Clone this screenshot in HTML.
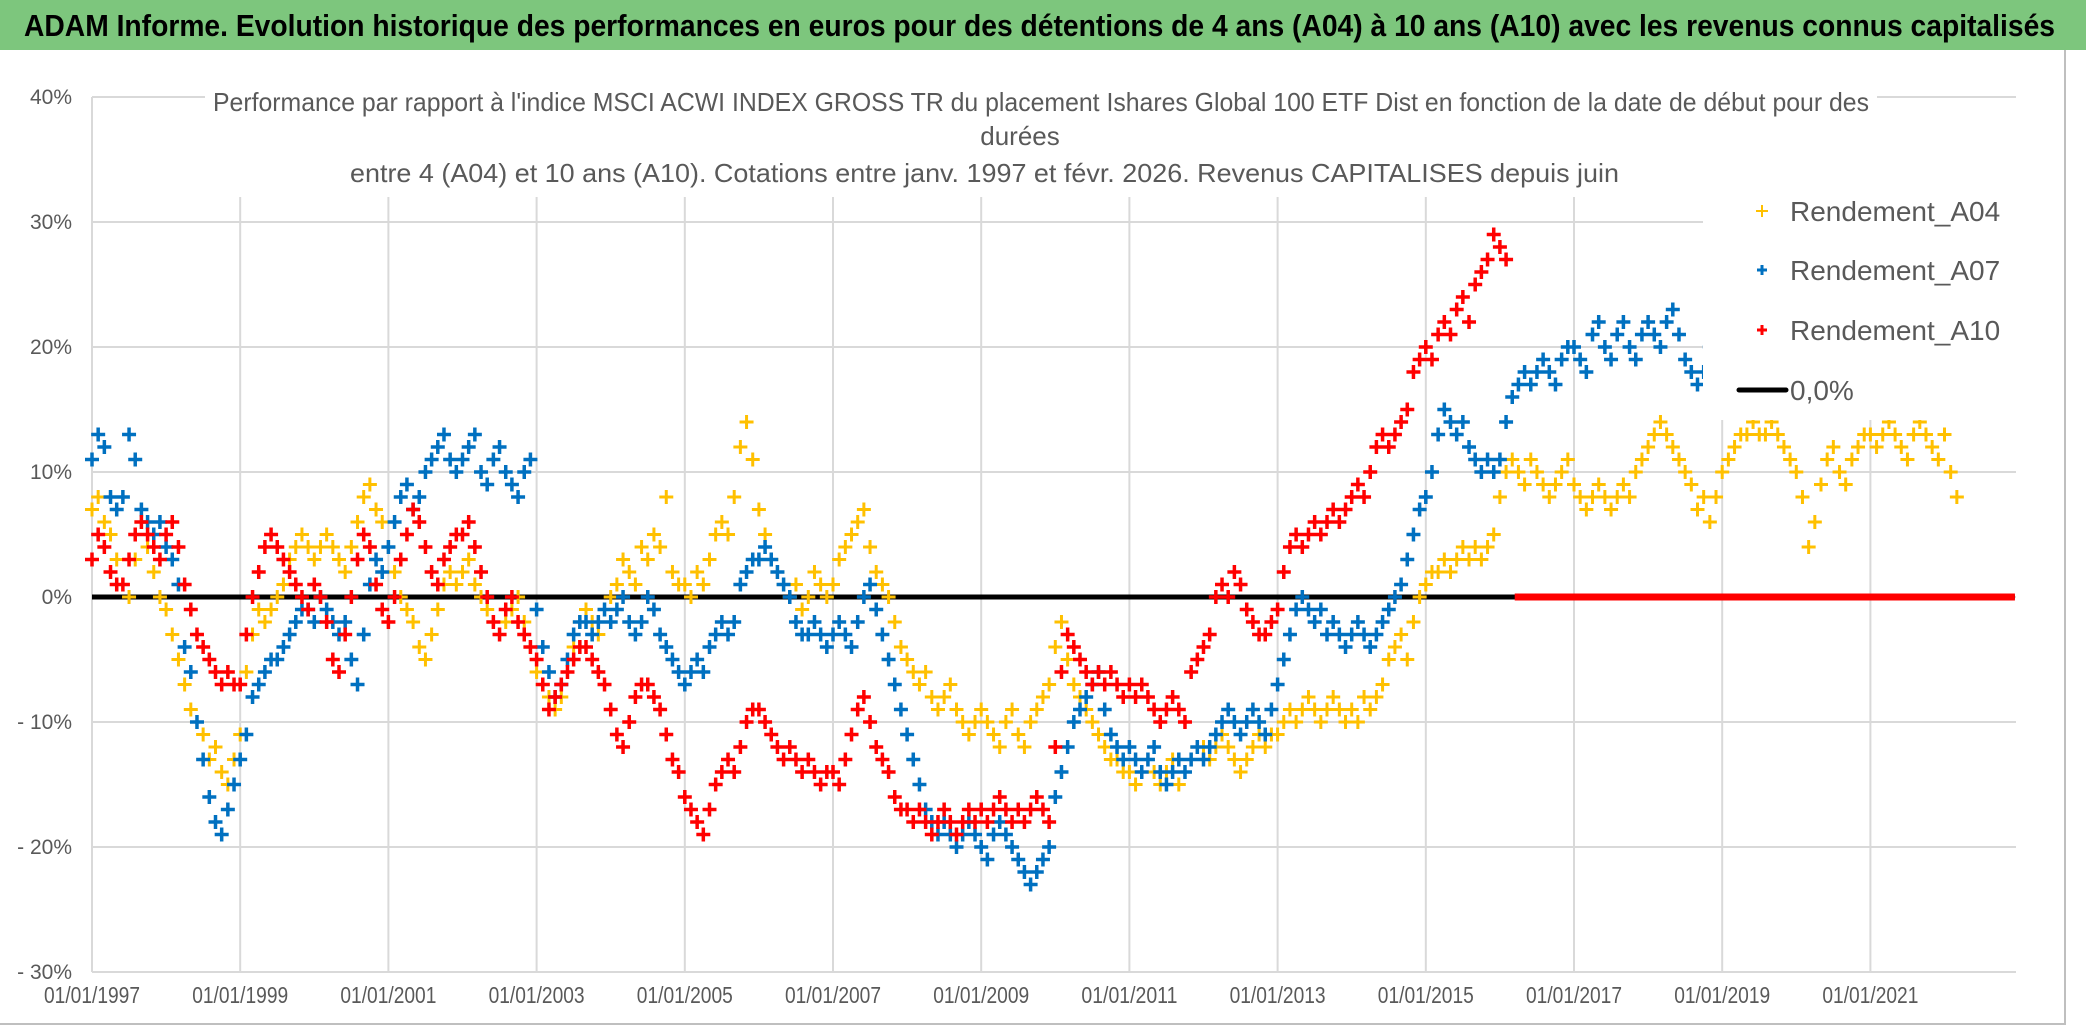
<!DOCTYPE html>
<html><head><meta charset="utf-8"><style>
html,body{margin:0;padding:0;background:#fff}
svg{display:block}
text{font-family:"Liberation Sans Narrow","Liberation Sans",sans-serif}
</style></head><body>
<svg id="chart" width="2086" height="1031" viewBox="0 0 2086 1031" xmlns="http://www.w3.org/2000/svg">
<rect x="0" y="0" width="2086" height="1031" fill="#fff"/>
<rect x="0" y="0" width="2086" height="50" fill="#7DC67D"/>
<text x="24" y="36" font-size="31" font-weight="bold" fill="#000" textLength="2031" lengthAdjust="spacingAndGlyphs">ADAM Informe. Evolution historique des performances en euros pour des détentions de 4 ans (A04) à 10 ans (A10) avec les revenus connus capitalisés</text>
<line x1="2065" y1="50" x2="2065" y2="1025" stroke="#bfbfbf" stroke-width="2"/>
<line x1="0" y1="1024" x2="2066" y2="1024" stroke="#bfbfbf" stroke-width="2"/>
<g id="grid"></g>
<g id="yaxis"></g>
<g id="xaxis"></g>
<g id="series"></g>
<rect x="205" y="82" width="1672" height="115" fill="#fff"/>
<text x="213" y="111" font-size="26" fill="#595959" textLength="1656" lengthAdjust="spacingAndGlyphs">Performance par rapport à l'indice MSCI ACWI INDEX GROSS TR  du placement Ishares Global 100 ETF Dist en fonction de la date de début pour des</text>
<text x="1020" y="145" font-size="26" fill="#595959" text-anchor="middle">durées</text>
<text x="350" y="182" font-size="26" fill="#595959" textLength="1269" lengthAdjust="spacingAndGlyphs">entre 4 (A04) et 10 ans (A10). Cotations entre janv. 1997 et févr. 2026. Revenus CAPITALISES depuis juin</text>
<g>
<rect x="1703" y="150" width="313" height="270" fill="#fff"/>
<g><path d="M1756 211h12M1762 205v12" stroke="#FFC000" stroke-width="2"/><text x="1790" y="221" font-size="28" fill="#595959">Rendement_A04</text></g>
<g><path d="M1757 270h10M1762 265v10" stroke="#0070C0" stroke-width="3"/><text x="1790" y="280" font-size="28" fill="#595959">Rendement_A07</text></g>
<g><path d="M1757 330h10M1762 325v10" stroke="#FF0000" stroke-width="3"/><text x="1790" y="340" font-size="28" fill="#595959">Rendement_A10</text></g>
<g><line x1="1739" y1="390" x2="1786" y2="390" stroke="#000" stroke-width="5" stroke-linecap="round"/><text x="1790" y="400" font-size="28" fill="#595959">0,0%</text></g>
</g>
</svg>
<script>
const startYear = 1997;
const yTicks = [40,30,20,10,0,-10,-20,-30];
const yTickLabels = ["40%","30%","20%","10%","0%","- 10%","- 20%","- 30%"];
const xTicks = [1997,1999,2001,2003,2005,2007,2009,2011,2013,2015,2017,2019,2021];
const xTickLabels = ["01/01/1997","01/01/1999","01/01/2001","01/01/2003","01/01/2005","01/01/2007","01/01/2009","01/01/2011","01/01/2013","01/01/2015","01/01/2017","01/01/2019","01/01/2021"];
const a04 = [7,8,6,5,3,1,0,3,6,4,2,0,
-1,-3,-5,-7,-9,-10,-11,-13,-12,-14,-15,-13,
-11,-6,-3,-1,-2,-1,0,1,3,4,5,4,
3,4,5,4,3,2,4,6,8,9,7,6,
4,2,0,-1,-2,-4,-5,-3,-1,1,2,1,
2,3,1,0,-1,-2,-3,-2,-1,0,-2,-4,
-6,-7,-8,-9,-8,-6,-4,-2,-1,-2,-3,-1,
0,1,3,2,1,4,3,5,4,8,2,1,
1,0,2,1,3,5,6,5,8,12,14,11,
7,5,3,2,1,0,1,-1,0,2,1,0,
1,3,4,5,6,7,4,2,1,0,-2,-4,
-5,-6,-7,-6,-8,-9,-8,-7,-9,-10,-11,-10,
-9,-10,-11,-12,-10,-9,-11,-12,-10,-9,-8,-7,
-4,-2,-5,-7,-8,-9,-10,-11,-12,-13,-13,-14,
-14,-15,-14,-13,-14,-15,-14,-13,-15,-14,-13,-12,
-12,-13,-12,-11,-12,-13,-14,-13,-12,-11,-12,-11,
-11,-10,-9,-10,-9,-8,-9,-10,-9,-8,-9,-10,
-9,-10,-8,-9,-8,-7,-5,-4,-3,-5,-2,0,
1,2,2,3,2,3,4,3,4,3,4,5,
8,10,11,10,9,11,10,9,8,9,10,11,
9,8,7,8,9,8,7,8,9,8,10,11,
12,13,14,13,12,11,10,9,7,8,6,8,
10,11,12,13,13,14,13,13,14,13,12,11,
10,8,4,6,9,11,12,10,9,11,12,13,
13,12,13,14,13,12,11,13,14,13,12,11,
13,10,8];
const a07 = [11,13,12,8,7,8,13,11,7,6,5,6,
4,3,1,-4,-6,-10,-13,-16,-18,-19,-17,-15,
-13,-11,-8,-7,-6,-5,-5,-4,-3,-2,-1,-1,
-2,0,-1,-2,-3,-2,-5,-7,-3,1,3,2,
4,6,8,9,7,8,10,11,12,13,11,10,
11,12,13,10,9,11,12,10,9,8,10,11,
-1,-4,-6,-8,-7,-5,-3,-2,-2,-3,-2,-1,
-2,-1,0,-2,-3,-2,0,-1,-3,-4,-5,-6,
-7,-6,-5,-6,-4,-3,-2,-3,-2,1,2,3,
3,4,3,2,1,0,-2,-3,-3,-2,-3,-4,
-3,-2,-3,-4,-2,0,1,-1,-3,-5,-7,-9,
-11,-13,-15,-17,-18,-19,-18,-19,-20,-19,-18,-19,
-20,-21,-19,-18,-19,-20,-21,-22,-23,-22,-21,-20,
-16,-14,-12,-10,-9,-8,-7,-6,-9,-11,-12,-13,
-12,-13,-14,-13,-12,-14,-15,-14,-13,-14,-13,-12,
-13,-12,-11,-10,-9,-10,-11,-10,-9,-10,-11,-9,
-7,-5,-3,-1,0,-1,-2,-1,-3,-2,-3,-4,
-3,-2,-3,-4,-3,-2,-1,0,1,3,5,7,
8,10,13,15,14,13,14,12,11,10,11,10,
11,14,16,17,18,17,18,19,18,17,19,20,
20,19,18,21,22,20,19,21,22,20,19,21,
22,21,20,22,23,21,19,18,17,18,20,21];
const a10 = [3,5,4,2,1,1,3,5,6,5,4,3,
5,6,4,1,-1,-3,-4,-5,-6,-7,-6,-7,
-7,-3,0,2,4,5,4,3,2,1,0,-1,
1,0,-2,-5,-6,-3,0,3,5,4,1,-1,
-2,0,3,5,7,6,4,2,1,3,4,5,
5,6,4,2,0,-2,-3,-1,0,-2,-3,-4,
-5,-7,-9,-8,-7,-6,-5,-4,-4,-5,-6,-7,
-9,-11,-12,-10,-8,-7,-7,-8,-9,-11,-13,-14,
-16,-17,-18,-19,-17,-15,-14,-13,-14,-12,-10,-9,
-9,-10,-11,-12,-13,-12,-13,-14,-13,-14,-15,-14,
-14,-15,-13,-11,-9,-8,-10,-12,-13,-14,-16,-17,
-17,-18,-17,-18,-19,-18,-17,-18,-19,-18,-17,-18,
-17,-18,-17,-16,-17,-18,-17,-18,-17,-16,-17,-18,
-12,-6,-3,-4,-5,-6,-7,-6,-7,-6,-7,-8,
-7,-8,-7,-8,-9,-10,-9,-8,-9,-10,-6,-5,
-4,-3,0,1,0,2,1,-1,-2,-3,-3,-2,
-1,2,4,5,4,5,6,5,6,7,6,7,
8,9,8,10,12,13,12,13,14,15,18,19,
20,19,21,22,21,23,24,22,25,26,27,29,
28,27];
const a10ZeroRange = [2016.2, 2022.95];
const zeroLineRange = [1997, 2022.95];

const X0 = 92, PX_PER_YEAR = 74.1, Y0 = 597, PX_PER_PCT = 12.5, PLOT_RIGHT = 2016;
function xs(year){ return X0 + (year - 1997) * PX_PER_YEAR; }
function ys(v){ return Y0 - v * PX_PER_PCT; }
const NS = "http://www.w3.org/2000/svg";
function mk(tag, attrs, parent){ const e=document.createElementNS(NS,tag); for(const k in attrs) e.setAttribute(k,attrs[k]); parent.appendChild(e); return e; }

const grid = document.getElementById('grid');
yTicks.forEach(function(t){
  const l = mk('line',{x1:X0,x2:PLOT_RIGHT,y1:ys(t),y2:ys(t),stroke:'#d9d9d9','stroke-width':2},grid);
  
  
});
xTicks.forEach(function(t){
  const l = mk('line',{x1:xs(t),x2:xs(t),y1:ys(40),y2:ys(-30),stroke:'#d9d9d9','stroke-width':2},grid);
  
  
});
const yax = document.getElementById('yaxis');
yTicks.forEach(function(t,i){
  const tx = mk('text',{x:72,y:ys(t)+7,'font-size':21,fill:'#595959','text-anchor':'end'},yax);
  tx.textContent = yTickLabels[i];
  
  
});
const xax = document.getElementById('xaxis');
xTicks.forEach(function(t,i){
  const tx = mk('text',{x:xs(t),y:1003,'font-size':23,fill:'#595959','text-anchor':'middle',textLength:96,lengthAdjust:'spacingAndGlyphs'},xax);
  tx.textContent = xTickLabels[i];
  
  
});

const ser = document.getElementById('series');
const zl = mk('line',{x1:xs(zeroLineRange[0]),x2:xs(zeroLineRange[1]),y1:ys(0),y2:ys(0),stroke:'#000','stroke-width':5},ser);


function crosses(arr,color,sw){
  let d='';
  arr.forEach(function(v,i){
    const x = xs(startYear + i/12), y = ys(v);
    d += 'M'+(x-7)+' '+y+'h14M'+x+' '+(y-7)+'v14';
  });
  return mk('path',{d:d,stroke:color,'stroke-width':sw,fill:'none'},ser);
}
const p4 = crosses(a04,'#FFC000',3);


const p7 = crosses(a07,'#0070C0',3.5);


const p10 = crosses(a10,'#FF0000',3.5);


const rz = mk('line',{x1:xs(a10ZeroRange[0]),x2:xs(a10ZeroRange[1]),y1:ys(0),y2:ys(0),stroke:'#FF0000','stroke-width':7},ser);


</script>
</body></html>
